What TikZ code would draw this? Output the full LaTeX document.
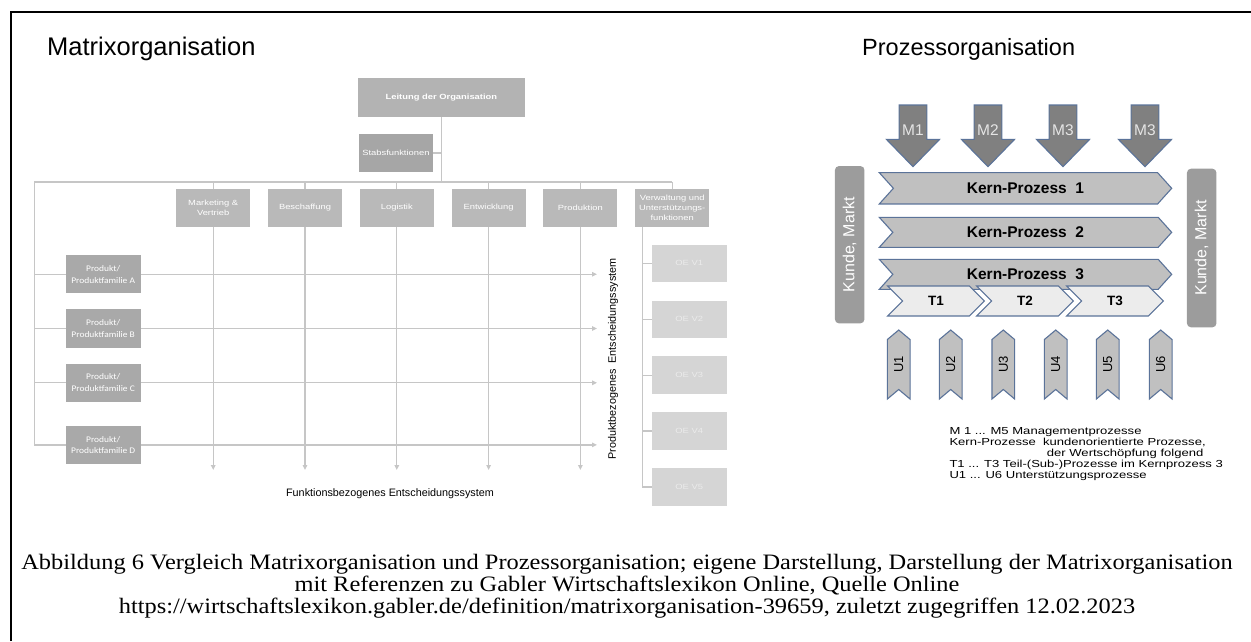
\documentclass[tikz,border=0pt]{standalone}
\usepackage{fontspec}
\setmainfont{Liberation Sans}
\newfontfamily\capfont[FakeStretch=1.11]{Liberation Serif}
\newfontfamily\chartfont[FakeStretch=1.25]{Liberation Sans}
\newfontfamily\prodfont[FakeStretch=1.1]{Carlito}
\newfontfamily\legfont[FakeStretch=1.28]{Liberation Sans}
\usepackage{xcolor}
\usetikzlibrary{shapes.symbols, arrows.meta, positioning}

\definecolor{leitgray}{HTML}{B3B3B3}
\definecolor{stabgray}{HTML}{A6A6A6}
\definecolor{funcgray}{HTML}{B9B9B9}
\definecolor{prodgray}{HTML}{A9A9A9}
\definecolor{oegray}{HTML}{D5D5D5}
\definecolor{linegray}{HTML}{C6C6C6}
\definecolor{procblue}{HTML}{5B7399}
\definecolor{mgray}{HTML}{808080}
\definecolor{kerngray}{HTML}{C0C0C0}
\definecolor{teilgray}{HTML}{ECECEC}
\definecolor{kundegray}{HTML}{9C9C9C}

\begin{document}
\begin{tikzpicture}[x=1pt, y=-1pt, node distance=17.4pt]
    \useasboundingbox (0,0) rectangle (1251,641);
    % Define styles
    \tikzstyle{orgbox} = [rectangle, inner sep=0pt, text=white, align=center, font=\chartfont\fontsize{7.5}{9.5}\selectfont]
    \tikzstyle{leitbox} = [orgbox, fill=leitgray, minimum width=167, minimum height=39]
    \tikzstyle{stabbox} = [orgbox, fill=stabgray, minimum width=74.6, minimum height=38]
    \tikzstyle{funcbox} = [orgbox, fill=funcgray, minimum width=74, minimum height=38]
    \tikzstyle{prodbox} = [orgbox, fill=prodgray, minimum width=75, minimum height=38.3, font=\prodfont\fontsize{8.6}{11.7}\selectfont]
    \tikzstyle{oebox} = [orgbox, fill=oegray, text=white!92!black, minimum width=75, minimum height=37.5]
    \tikzstyle{chartline} = [draw=linegray, line width=1.3pt]
    \tikzstyle{chartarrow} = [chartline, -{Triangle[length=5pt, width=4.5pt]}]
    \tikzstyle{systext} = [inner sep=0pt, font=\fontsize{10.8}{12}\selectfont]
    \tikzstyle{title} = [inner sep=0pt, anchor=base west, font=\fontsize{25.5}{28}\selectfont]
    \tikzstyle{mgmtarrow} = [draw=procblue, fill=mgray, line width=1.1pt]
    \tikzstyle{mtext} = [inner sep=0pt, text=white!90!black, font=\fontsize{15.5}{17}\selectfont]
    \tikzstyle{kernproc} = [signal, signal to=east, signal from=west, signal pointer angle=96, draw=procblue, line width=1.1pt, fill=kerngray, inner sep=0pt, minimum width=292.4, minimum height=30, font=\bfseries\fontsize{15.5}{17}\selectfont]
    \tikzstyle{teilproc} = [signal, signal to=east, signal from=west, signal pointer angle=90, draw=procblue, line width=1.1pt, fill=teilgray, inner sep=0pt, minimum width=96.6, minimum height=30, font=\bfseries\fontsize{13.5}{15}\selectfont]
    \tikzstyle{supproc} = [signal, signal to=east, signal from=west, signal pointer angle=100, rotate=90, draw=procblue, line width=1.1pt, fill=kerngray, inner sep=0pt, minimum width=69, minimum height=22.7, font=\fontsize{13}{15}\selectfont]
    \tikzstyle{kundebox} = [rectangle, rounded corners=4pt, rotate=90, fill=kundegray, text=white, inner sep=0pt, minimum height=29.5, font=\fontsize{16}{18}\selectfont]
    \tikzstyle{legtext} = [inner sep=0pt, anchor=base west, font=\legfont\fontsize{10.2}{11}\selectfont]
    \tikzstyle{captext} = [inner sep=0pt, anchor=base, font=\capfont\fontsize{22}{22}\selectfont]

    % frame
    \draw[line width=2pt] (11,641) -- (11,12) -- (1251,12);

    % TITLES
    \node (mtitle) [title] at (47,55) {Matrixorganisation};
    \node (ptitle) [title, font=\fontsize{23.5}{26}\selectfont] at (862,55) {Prozessorganisation};

    % MATRIXORGANISATION
    \node (leitung) [leitbox] at (441.4,97.5) {\bfseries Leitung der Organisation};
    \node (stab) [stabbox] at (395.9,153) {Stabsfunktionen};

    \node (f1) [funcbox] at (213.2,208) {Marketing \&\\Vertrieb};
    \node (f2) [funcbox, right=of f1] {Beschaffung};
    \node (f3) [funcbox, right=of f2] {Logistik};
    \node (f4) [funcbox, right=of f3] {Entwicklung};
    \node (f5) [funcbox, right=of f4] {Produktion};
    \node (f6) [funcbox, right=of f5, font=\chartfont\fontsize{7.5}{9.8}\selectfont] {Verwaltung und\\Unterst\"utzungs-\\funktionen};

    \node (pA) [prodbox] at (103.2,274.2) {Produkt/\\Produktfamilie A};
    \node (pB) [prodbox] at (103.2,328.5) {Produkt/\\Produktfamilie B};
    \node (pC) [prodbox] at (103.2,382.8) {Produkt/\\Produktfamilie C};
    \node (pD) [prodbox] at (103.2,444.9) {Produkt/\\Produktfamilie D};

    \node (oe1) [oebox] at (689.2,263.4) {OE V1};
    \node (oe2) [oebox, below=18pt of oe1] {OE V2};
    \node (oe3) [oebox, below=18pt of oe2] {OE V3};
    \node (oe4) [oebox, below=18pt of oe3] {OE V4};
    \node (oe5) [oebox, below=18pt of oe4] {OE V5};

    \node (prodsys) [systext, rotate=90] at (613,359) {Produktbezogenes\ \ Entscheidungssystem};
    \node (funcsys) [systext] at (390,494) {Funktionsbezogenes Entscheidungssystem};

    \coordinate (barL) at (34.3,182);
    \coordinate (rowend) at (597,0);
    \coordinate (colend) at (0,470);
    \coordinate (vx) at ([xshift=7.3pt]f6.south west);

    % CONNECTIONS
    \draw[chartline] (leitung.south) -- (leitung.south |- barL);
    \draw[chartline] (stab.east) -- (stab.east -| leitung.south);
    \draw[chartline] (barL) -- (barL -| f6.north);
    \foreach \f in {f1,f2,f3,f4,f5,f6}
        \draw[chartline] (\f.north) -- (\f.north |- barL);
    \foreach \f in {f1,f2,f3,f4,f5}
        \draw[chartarrow] (\f.south) -- (\f.south |- colend);
    \draw[chartline] (barL) |- (pD.west);
    \foreach \p in {pA,pB,pC}
        \draw[chartline] (barL |- \p.west) -- (\p.west);
    \foreach \p in {pA,pB,pC,pD}
        \draw[chartarrow] (\p.east) -- (\p.east -| rowend);
    \draw[chartline] (vx) |- (oe5.west);
    \foreach \o in {oe1,oe2,oe3,oe4}
        \draw[chartline] (vx |- \o.west) -- (\o.west);

    % PROZESSORGANISATION
    \foreach \x/\m [count=\i] in {913/M1, 988/M2, 1063/M3, 1145/M3} {
        \draw[mgmtarrow] (\x-13.85,105) -- (\x+13.85,105) -- (\x+13.85,139.3) -- (\x+26.65,139.3)
            -- (\x,166.7) -- (\x-26.65,139.3) -- (\x-13.85,139.3) -- cycle;
        \node (m\i) [mtext] at (\x,130) {\m};
    }

    \node (kundeL) [kundebox, minimum width=157.3] at (849.7,244.7) {Kunde, Markt};
    \node (kundeR) [kundebox, minimum width=158.6] at (1201.7,248) {Kunde, Markt};

    \node (kp1) [kernproc, minimum height=31.3] at (1025.5,188.3) {Kern-Prozess\ \ 1};
    \node (kp2) [kernproc] at (1025.5,232.3) {Kern-Prozess\ \ 2};
    \node (kp3) [kernproc] at (1025.5,274.3) {Kern-Prozess\ \ 3};

    \node (t1) [teilproc] at (936,301) {T1};
    \node (t2) [teilproc] at (1025,301) {T2};
    \node (t3) [teilproc] at (1115,301) {T3};

    \foreach \x [count=\i] in {898.7,950.7,1003.3,1055.7,1107.7,1160.7}
        \node (u\i) [supproc] at (\x,364.5) {U\i};

    % legend
    \node (leg1) [legtext] at (949.3,434.3) {M 1 ... M5 Managementprozesse};
    \node (leg2) [legtext] at (949.3,445.3) {Kern-Prozesse\ \ kundenorientierte Prozesse,};
    \node (leg3) [legtext] at (1046.7,456.3) {der Wertsch\"opfung folgend};
    \node (leg4) [legtext] at (949.3,467.6) {T1 ... T3 Teil-(Sub-)Prozesse im Kernprozess 3};
    \node (leg5) [legtext] at (949.3,478.6) {U1 ... U6 Unterst\"utzungsprozesse};

    % caption
    \node (cap1) [captext] at (627,569) {Abbildung 6 Vergleich Matrixorganisation und Prozessorganisation; eigene Darstellung, Darstellung der Matrixorganisation};
    \node (cap2) [captext] at (627,591) {mit Referenzen zu Gabler Wirtschaftslexikon Online, Quelle Online};
    \node (cap3) [captext] at (627,613) {https://wirtschaftslexikon.gabler.de/definition/matrixorganisation-39659, zuletzt zugegriffen 12.02.2023};
\end{tikzpicture}
\end{document}
